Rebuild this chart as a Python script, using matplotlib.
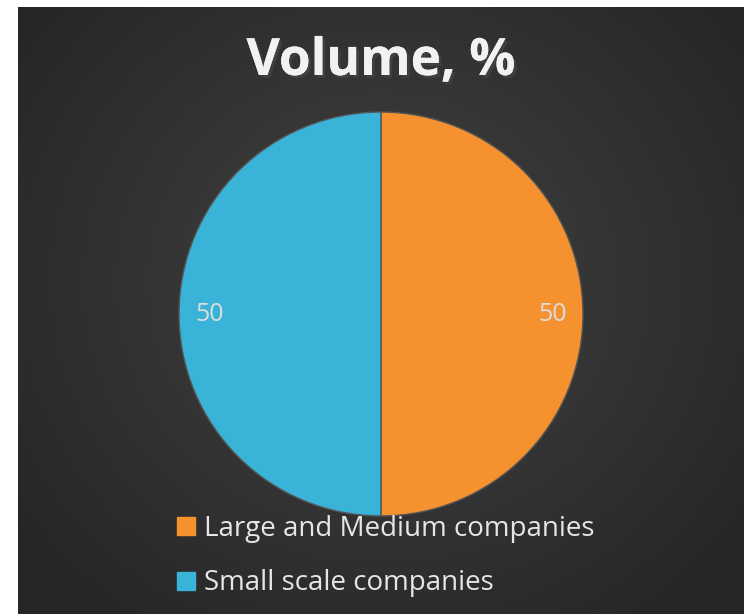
import numpy as np
import matplotlib.pyplot as plt
import matplotlib.patheffects as pe
from matplotlib.lines import Line2D

labels = ['Large and Medium companies', 'Small scale companies']
values = [50, 50]
colors = ['#F5922F', '#3AB3D8']
title = 'Volume, %'

plt.rcParams['font.family'] = ['Open Sans', 'DejaVu Sans']

fig = plt.figure(figsize=(7.44, 6.14), dpi=100)
fig.patch.set_facecolor('white')

# dark radial background, leaving the white strip on the left and top
W, H = 744, 614
left, top = 18, 7
bg = fig.add_axes([left / W, 0, 1 - left / W, 1 - top / H])
yy, xx = np.mgrid[0:200, 0:240]
cx, cy = 120, 90
d = np.sqrt(((xx - cx) / 150.0) ** 2 + ((yy - cy) / 140.0) ** 2)
d = np.clip(d, 0, 1)
shade = 0.26 - 0.11 * d
img = np.dstack([shade, shade, shade])
bg.imshow(img, extent=[0, 1, 0, 1], aspect='auto', interpolation='bilinear')
bg.set_axis_off()

# pie
r = 204
cxp, cyp = 381, 314
ax = fig.add_axes([(cxp - r) / W, (H - cyp - r) / H, 2 * r / W, 2 * r / H])
wedges, texts = ax.pie(values, colors=colors, startangle=90, counterclock=False,
                       wedgeprops=dict(edgecolor='#555555', linewidth=1.0))
ax.set_xlim(-1.01, 1.01)
ax.set_ylim(-1.01, 1.01)
ax.set_aspect('auto')
for w, v in zip(wedges, values):
    ang = np.deg2rad((w.theta1 + w.theta2) / 2)
    ax.text(0.85 * np.cos(ang), 0.0, str(v), ha='center', va='center',
            fontsize=18, color='#DDDDDD')

fig.text(381 / W, 1 - 62 / H, title, ha='center', va='center', fontsize=37,
         fontweight='bold', color='#F2F2F2',
         path_effects=[pe.withSimplePatchShadow(offset=(2, -2), alpha=0.6), pe.Normal()])

handles = [Line2D([0], [0], marker='s', linestyle='none', markersize=13,
                  markerfacecolor=c, markeredgecolor=c) for c in colors]
leg = fig.legend(handles, labels, loc='upper left', bbox_to_anchor=(147 / W, 1 - 490 / H),
                 frameon=False, fontsize=20, labelcolor='#E6E6E6', handletextpad=0.15,
                 labelspacing=0.95, handlelength=1.0)

fig.savefig('out.png', dpi=100, facecolor=fig.get_facecolor())
